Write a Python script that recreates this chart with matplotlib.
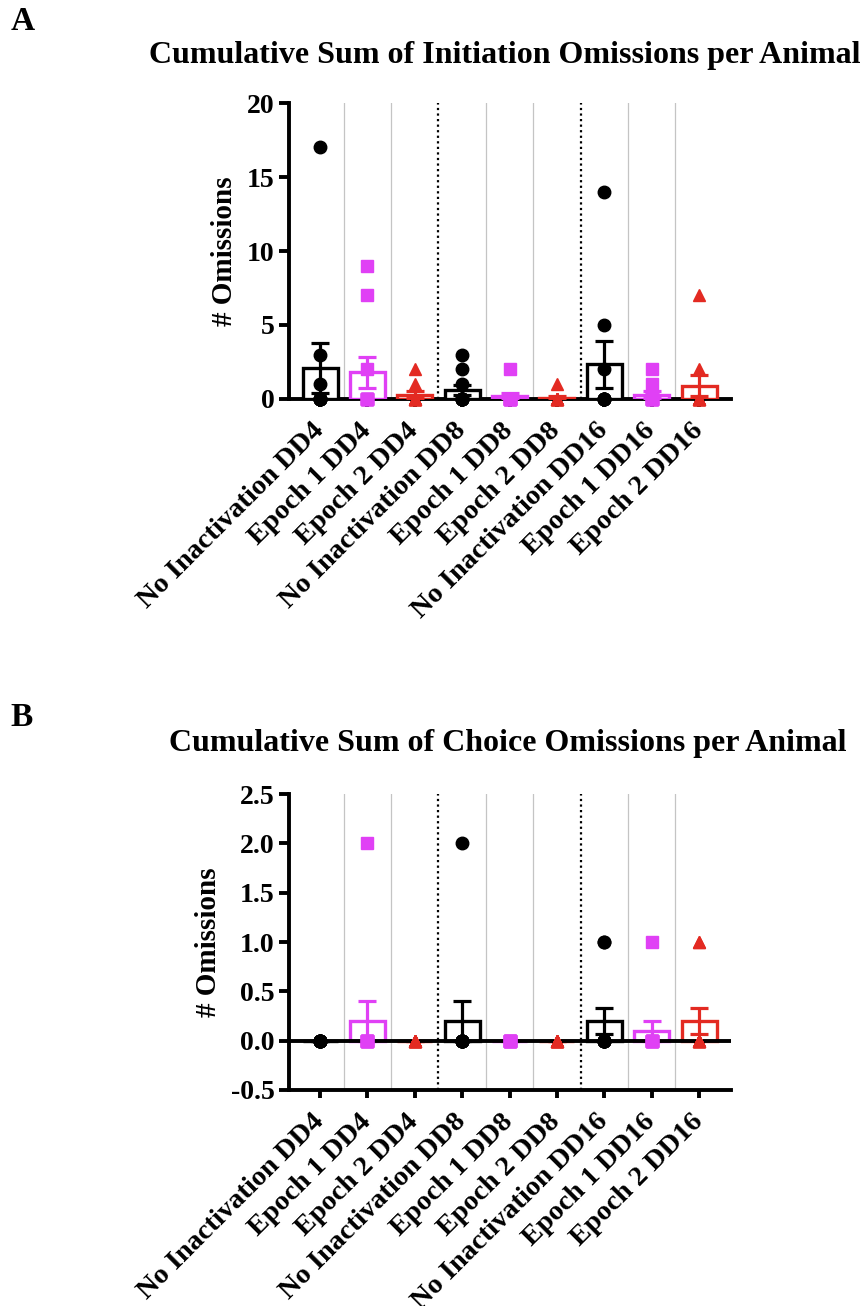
import numpy as np
import matplotlib
matplotlib.use('Agg')
import matplotlib.pyplot as plt
from matplotlib.transforms import ScaledTranslation

plt.rcParams['font.family'] = ['Liberation Serif', 'DejaVu Serif']
plt.rcParams['font.weight'] = 'bold'

labels = ['No Inactivation DD4', 'Epoch 1 DD4', 'Epoch 2 DD4',
          'No Inactivation DD8', 'Epoch 1 DD8', 'Epoch 2 DD8',
          'No Inactivation DD16', 'Epoch 1 DD16', 'Epoch 2 DD16']

# Initiation omissions per animal (panel A)
init_nd4 = [17, 3, 1, 0, 0, 0, 0, 0, 0, 0]
init_e1d4 = [9, 7, 2, 0, 0, 0, 0, 0, 0, 0]
init_e2d4 = [2, 1, 0, 0, 0, 0, 0, 0, 0, 0]
init_nd8 = [3, 2, 1, 0, 0, 0, 0, 0, 0, 0]
init_e1d8 = [2, 0, 0, 0, 0, 0, 0, 0, 0, 0]
init_e2d8 = [1, 0, 0, 0, 0, 0, 0, 0, 0, 0]
init_nd16 = [14, 5, 2, 0, 0, 0, 0, 0, 0]
init_e1d16 = [2, 1, 0, 0, 0, 0, 0, 0, 0, 0]
init_e2d16 = [7, 2, 0, 0, 0, 0, 0, 0, 0, 0]

# Choice omissions per animal (panel B)
choice_nd4 = [0, 0, 0, 0, 0, 0, 0, 0, 0, 0]
choice_e1d4 = [2, 0, 0, 0, 0, 0, 0, 0, 0, 0]
choice_e2d4 = [0, 0, 0, 0, 0, 0, 0, 0, 0, 0]
choice_nd8 = [2, 0, 0, 0, 0, 0, 0, 0, 0, 0]
choice_e1d8 = [0, 0, 0, 0, 0, 0, 0, 0, 0, 0]
choice_e2d8 = [0, 0, 0, 0, 0, 0, 0, 0, 0, 0]
choice_nd16 = [1, 1, 0, 0, 0, 0, 0, 0, 0, 0]
choice_e1d16 = [1, 0, 0, 0, 0, 0, 0, 0, 0, 0]
choice_e2d16 = [1, 1, 0, 0, 0, 0, 0, 0, 0, 0]

init_data = [init_nd4, init_e1d4, init_e2d4, init_nd8, init_e1d8, init_e2d8,
             init_nd16, init_e1d16, init_e2d16]
choice_data = [choice_nd4, choice_e1d4, choice_e2d4, choice_nd8, choice_e1d8,
               choice_e2d8, choice_nd16, choice_e1d16, choice_e2d16]

black = '#000000'
magenta = '#E040F5'
red = '#E32A22'
colors = [black, magenta, red] * 3
markers = ['o', 's', '^'] * 3
msizes = {'o': 9, 's': 8, '^': 9}


def draw_panel(fig, ax, data, ylim, yticks, yticklabels, zero_line):
    x = np.arange(len(data))
    # separators between groups
    for i in range(len(data) - 1):
        xs = i + 0.5
        if i in (2, 5):
            ax.axvline(xs, color='black', lw=1.6, ls=(0, (1, 1.5)), zorder=1)
        else:
            ax.axvline(xs, color='#c4c4c4', lw=0.9, zorder=1)
    for i, vals in enumerate(data):
        vals = np.array(vals, dtype=float)
        mean = vals.mean()
        sem = vals.std(ddof=1) / np.sqrt(len(vals))
        ax.bar(x[i], mean, width=0.74, facecolor='white', edgecolor=colors[i],
               linewidth=2.4, zorder=3)
        ax.errorbar(x[i], mean, yerr=sem, color=colors[i], lw=2.3, capsize=6.5,
                    capthick=2.3, zorder=4)
        ax.plot(np.full(len(vals), x[i]), vals, ls='none', marker=markers[i],
                color=colors[i], markersize=msizes[markers[i]], zorder=5,
                clip_on=False)
    if zero_line:
        ax.axhline(0, color='black', lw=2.8, zorder=4)
    ax.set_xlim(-0.654, 8.67)
    ax.set_ylim(*ylim)
    ax.spines['top'].set_visible(False)
    ax.spines['right'].set_visible(False)
    ax.spines['left'].set_linewidth(2.8)
    ax.spines['bottom'].set_linewidth(2.8)
    ax.tick_params(axis='y', width=2.8, length=7.5, pad=3)
    ax.tick_params(axis='x', width=2.8, length=6, pad=4)
    ax.set_yticks(yticks)
    ax.set_yticklabels(yticklabels, fontsize=20, fontweight='bold')
    ax.set_xticks(x)
    ax.set_xticklabels(labels, rotation=45, ha='right', va='top',
                       rotation_mode='anchor', fontsize=20.5, fontweight='bold')
    # nudge rotated labels left/down to sit like the original
    shift = ScaledTranslation(-0.09, -0.05, fig.dpi_scale_trans)
    for lab in ax.get_xticklabels():
        lab.set_transform(lab.get_transform() + shift)
    ax.set_ylabel('# Omissions', fontsize=21, fontweight='bold', labelpad=6)


fig = plt.figure(figsize=(8.68, 13.06), dpi=100)

ax1 = fig.add_axes([0.333, 0.6945, 0.509, 0.2266])
draw_panel(fig, ax1, init_data, (0, 20), [0, 5, 10, 15, 20],
           ['0', '5', '10', '15', '20'], False)

ax2 = fig.add_axes([0.333, 0.1654, 0.509, 0.2266])
draw_panel(fig, ax2, choice_data, (-0.5, 2.5), [-0.5, 0, 0.5, 1.0, 1.5, 2.0, 2.5],
           ['-0.5', '0.0', '0.5', '1.0', '1.5', '2.0', '2.5'], True)

fig.text(0.582, 1 - 56 / 1306, 'Cumulative Sum of Initiation Omissions per Animal',
         ha='center', va='center', fontsize=23, fontweight='bold')
fig.text(0.585, 1 - 743 / 1306, 'Cumulative Sum of Choice Omissions per Animal',
         ha='center', va='center', fontsize=23, fontweight='bold')
fig.text(0.012, 1 - 22 / 1306, 'A', ha='left', va='center', fontsize=24, fontweight='bold')
fig.text(0.012, 1 - 718 / 1306, 'B', ha='left', va='center', fontsize=24, fontweight='bold')

fig.savefig('out.png', dpi=100)
